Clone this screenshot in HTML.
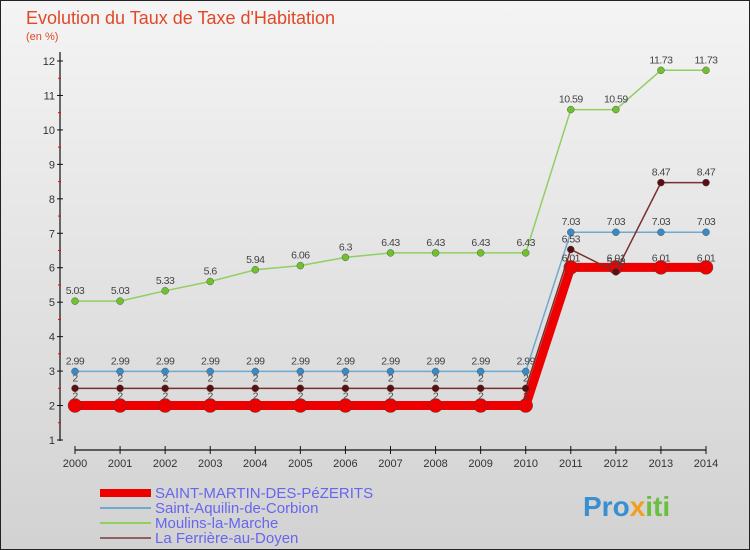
<!DOCTYPE html>
<html><head><meta charset="utf-8"><style>
body{margin:0;width:750px;height:550px;overflow:hidden;font-family:"Liberation Sans",sans-serif}
#wrap{position:absolute;left:0;top:0;width:748px;height:548px;border:1px solid #222;background:linear-gradient(#f4f4f4,#d2d2d2)}
svg text{font-family:"Liberation Sans",sans-serif}
</style></head><body>
<div id="wrap">
<svg id="chart" width="750" height="550" style="position:absolute;left:-1px;top:-1px">
<text x="26" y="24" font-size="18" fill="#e04828">Evolution du Taux de Taxe d'Habitation</text>
<text x="26" y="40" font-size="11" fill="#e04828">(en %)</text>
<g id="axes"></g><g id="series"></g><g id="legend"></g>
<text x="583" y="516" font-size="28" font-weight="bold" fill="#3a8fd0">Pro<tspan fill="#f0a020">x</tspan><tspan fill="#6bbf40">iti</tspan></text>
</svg></div>
<script>
const years=[2000,2001,2002,2003,2004,2005,2006,2007,2008,2009,2010,2011,2012,2013,2014];
const yTicks=[1,2,3,4,5,6,7,8,9,10,11,12];
const stMartin=[2,2,2,2,2,2,2,2,2,2,2,6.01,6.01,6.01,6.01];
const stAquilin=[2.99,2.99,2.99,2.99,2.99,2.99,2.99,2.99,2.99,2.99,2.99,7.03,7.03,7.03,7.03];
const moulins=[5.03,5.03,5.33,5.6,5.94,6.06,6.3,6.43,6.43,6.43,6.43,10.59,10.59,11.73,11.73];
const ferriere=[2.5,2.5,2.5,2.5,2.5,2.5,2.5,2.5,2.5,2.5,2.5,6.53,5.88,8.47,8.47];
const names=["SAINT-MARTIN-DES-PéZERITS","Saint-Aquilin-de-Corbion","Moulins-la-Marche","La Ferrière-au-Doyen"];
const NS="http://www.w3.org/2000/svg";
const X=i=>75+i*(706-75)/(years.length-1);
const Y=v=>440-(v-1)*(440-61)/11;
function mk(tag,attrs,parent){const e=document.createElementNS(NS,tag);for(const k in attrs)e.setAttribute(k,attrs[k]);parent.appendChild(e);return e;}
const ax=document.getElementById('axes');
let l=mk('line',{x1:60,y1:52,x2:60,y2:441,stroke:'#111','stroke-width':1.2},ax);

l=mk('line',{x1:75,y1:450,x2:706,y2:450,stroke:'#111','stroke-width':1.2},ax);

yTicks.forEach(v=>{const y=Y(v);
 mk('line',{x1:57,y1:y,x2:63,y2:y,stroke:'#111'},ax);
 if(v<12)mk('line',{x1:58,y1:Y(v+0.5),x2:61,y2:Y(v+0.5),stroke:'#f00'},ax);
 const t=mk('text',{x:55,y:y+4,'font-size':11,fill:'#333','text-anchor':'end'},ax);t.textContent=v;
 });
years.forEach((yr,i)=>{mk('line',{x1:X(i),y1:446,x2:X(i),y2:454,stroke:'#111'},ax);
 const t=mk('text',{x:X(i),y:467,'font-size':11,fill:'#333','text-anchor':'middle'},ax);t.textContent=yr;
 });
const sg=document.getElementById('series');
const defs=[[moulins,'#8fd060','#70c030',1.5,3.5,'moulins'],[stAquilin,'#70a8d0','#3a8ac8',1.5,3.5,'saint-aquilin'],[stMartin,'#ee0000','#ee0000',9,7,'saint-martin'],[ferriere,'#7a3030','#5a1010',1.5,3.5,'ferriere']];
defs.forEach(([d,lc,pc,w,r,n])=>{
 const p=mk('polyline',{points:d.map((v,i)=>X(i)+','+Y(v)).join(' '),fill:'none',stroke:lc,'stroke-width':w},sg);
 
 d.forEach((v,i)=>{const c=mk('circle',{cx:X(i),cy:Y(v),r:r,fill:pc,stroke:'#444','stroke-width':0.4},sg);
  
  const t=mk('text',{x:X(i),y:Y(v)-(w>5?6:7),'font-size':10.5,fill:'#444','text-anchor':'middle','letter-spacing':'-0.5'},sg);t.textContent=(n==='ferriere'&&v===2.5)?'2':v;
  });
});
const lg=document.getElementById('legend');
const lc=[['#ee0000',8],['#70a8d0',2],['#8fd060',2],['#906060',2]];
names.forEach((nm,i)=>{const y=493+i*15;
 const ln=mk('line',{x1:100,y1:y,x2:151,y2:y,stroke:lc[i][0],'stroke-width':lc[i][1]},lg);
 
 const t=mk('text',{x:155,y:y+5,'font-size':15,fill:'#6666ee'},lg);t.textContent=nm;
 });
</script></body></html>
